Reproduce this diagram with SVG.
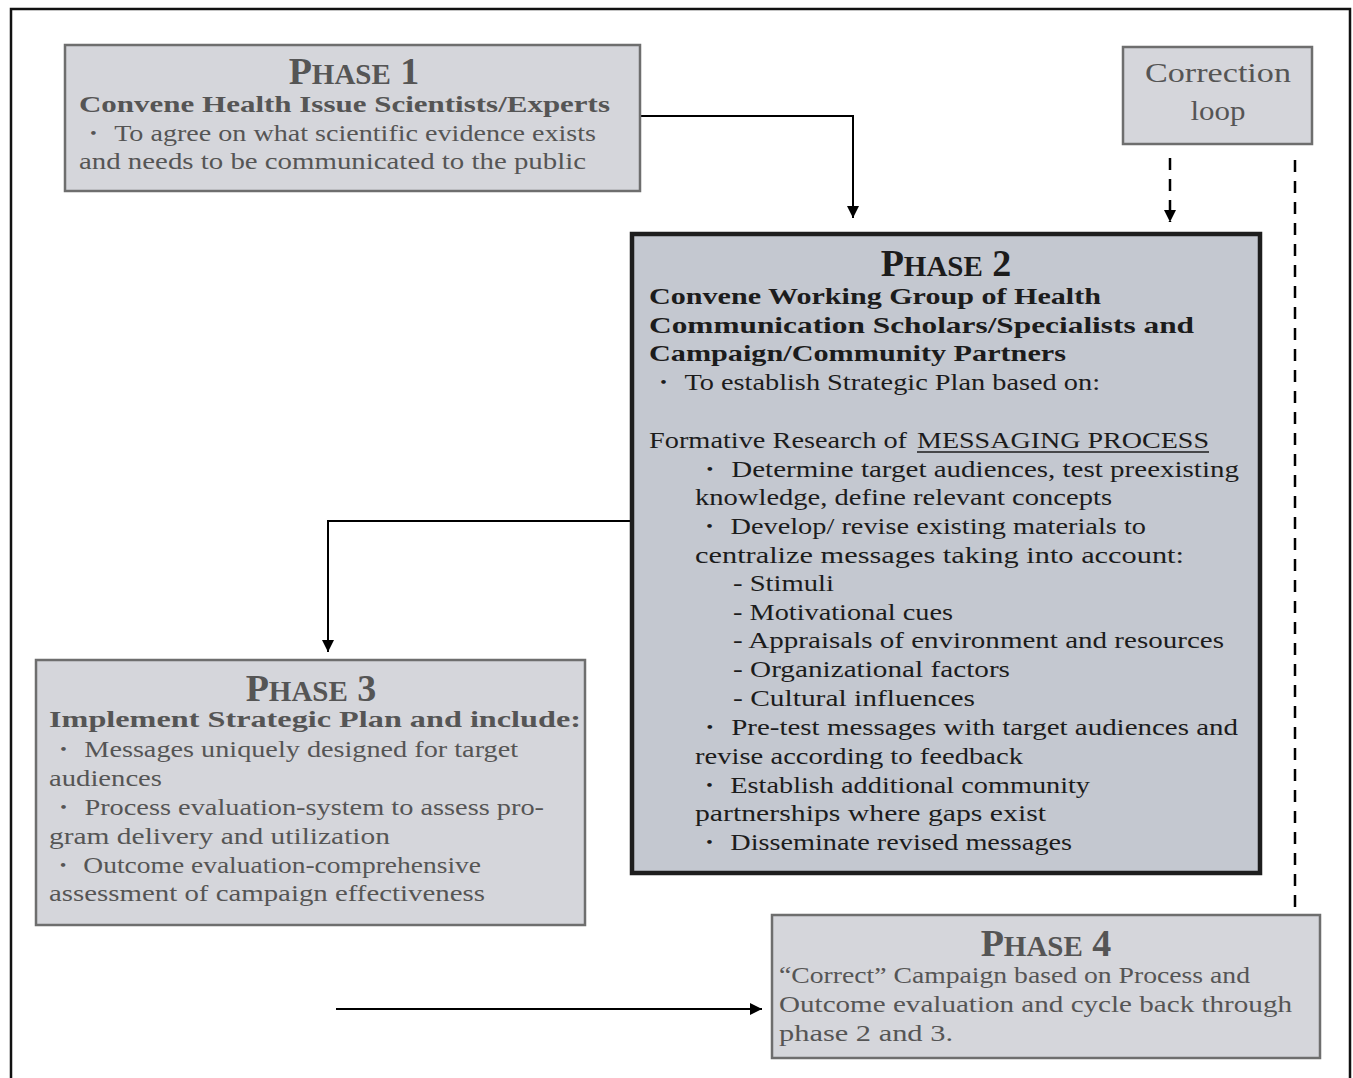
<svg xmlns="http://www.w3.org/2000/svg" width="1353" height="1078" viewBox="0 0 1353 1078">
<style>
.box{fill:#d5d6db;stroke:#6e6e6e;stroke-width:2.5}
.box2{fill:#c4c8d0;stroke:#1e1e1e;stroke-width:4.5}
text{font-family:"Liberation Serif","DejaVu Serif",serif;font-size:23px}
.g{fill:#555}
.k{fill:#1c1c1c}
.b{font-weight:bold}
.h{font-weight:bold;text-anchor:middle}
.big{font-size:38px}
.sm{font-size:29px}
.c{text-anchor:middle;font-size:28px}
.line{fill:none;stroke:#000;stroke-width:2}
.dash{fill:none;stroke:#000;stroke-width:2.5;stroke-dasharray:12 9}
</style>
<defs>
<marker id="ah2" viewBox="0 0 10 10" refX="10" refY="5" markerWidth="12" markerHeight="12" markerUnits="userSpaceOnUse" orient="auto"><path d="M0,0 L10,5 L0,10 Z" fill="#000"/></marker>
</defs>
<path d="M11,1078 V9 H1350 V1078" fill="none" stroke="#111" stroke-width="2.5"/>

<g id="connectors">
<path class="line" d="M640,116 H853 V218" marker-end="url(#ah2)"/>
<path class="line" d="M632,521 H328 V652" marker-end="url(#ah2)"/>
<path class="line" d="M336,1009 H762" stroke-width="3" marker-end="url(#ah2)"/>
<path class="dash" d="M1170,158 V222" marker-end="url(#ah2)"/>
<path class="dash" d="M1295,160 V913"/>
</g>

<g id="phase1">
<rect class="box" x="65" y="45" width="575" height="146"/>
<text class="g h" x="354" y="84"><tspan class="big">P</tspan><tspan class="sm">HASE</tspan><tspan class="big"> 1</tspan></text>
<text class="g b" x="79" y="112" textLength="531" lengthAdjust="spacingAndGlyphs">Convene Health Issue Scientists/Experts</text>
<text class="g" x="79" y="141" textLength="517" lengthAdjust="spacingAndGlyphs">・ To agree on what scientific evidence exists</text>
<text class="g" x="79" y="169" textLength="507" lengthAdjust="spacingAndGlyphs">and needs to be communicated to the public</text>
</g>

<g id="correction">
<rect class="box" x="1123" y="47" width="189" height="97"/>
<text class="g c" x="1218" y="82" textLength="146" lengthAdjust="spacingAndGlyphs">Correction</text>
<text class="g c" x="1218" y="120" textLength="55" lengthAdjust="spacingAndGlyphs">loop</text>
</g>

<g id="phase2">
<rect class="box2" x="632" y="234" width="628" height="639"/>
<text class="k h" x="946" y="276"><tspan class="big">P</tspan><tspan class="sm">HASE</tspan><tspan class="big"> 2</tspan></text>
<text class="k b" x="649" y="304" textLength="452" lengthAdjust="spacingAndGlyphs">Convene Working Group of  Health</text>
<text class="k b" x="649" y="333" textLength="545" lengthAdjust="spacingAndGlyphs">Communication Scholars/Specialists  and</text>
<text class="k b" x="649" y="361" textLength="417" lengthAdjust="spacingAndGlyphs">Campaign/Community Partners</text>
<text class="k" x="649" y="390" textLength="451" lengthAdjust="spacingAndGlyphs">・ To establish Strategic Plan based on:</text>
<text class="k" x="649" y="448" textLength="258" lengthAdjust="spacingAndGlyphs">Formative Research of</text>
<text class="k" x="917" y="448" textLength="292" lengthAdjust="spacingAndGlyphs">MESSAGING PROCESS</text>
<line x1="917" y1="452" x2="1209" y2="452" stroke="#1c1c1c" stroke-width="1.5"/>
<text class="k" x="695" y="477" textLength="544" lengthAdjust="spacingAndGlyphs">・ Determine target audiences, test preexisting</text>
<text class="k" x="695" y="505" textLength="417" lengthAdjust="spacingAndGlyphs">knowledge, define relevant concepts</text>
<text class="k" x="695" y="534" textLength="451" lengthAdjust="spacingAndGlyphs">・ Develop/ revise existing materials to</text>
<text class="k" x="695" y="563" textLength="489" lengthAdjust="spacingAndGlyphs">centralize messages taking into account:</text>
<text class="k" x="733" y="591" textLength="101" lengthAdjust="spacingAndGlyphs">- Stimuli</text>
<text class="k" x="733" y="620" textLength="220" lengthAdjust="spacingAndGlyphs">- Motivational cues</text>
<text class="k" x="733" y="648" textLength="491" lengthAdjust="spacingAndGlyphs">- Appraisals of environment and resources</text>
<text class="k" x="733" y="677" textLength="277" lengthAdjust="spacingAndGlyphs">- Organizational factors</text>
<text class="k" x="733" y="706" textLength="242" lengthAdjust="spacingAndGlyphs">- Cultural influences</text>
<text class="k" x="695" y="735" textLength="543" lengthAdjust="spacingAndGlyphs">・ Pre-test messages with target audiences and</text>
<text class="k" x="695" y="764" textLength="328" lengthAdjust="spacingAndGlyphs">revise according to feedback</text>
<text class="k" x="695" y="793" textLength="395" lengthAdjust="spacingAndGlyphs">・ Establish additional community</text>
<text class="k" x="695" y="821" textLength="351" lengthAdjust="spacingAndGlyphs">partnerships where gaps exist</text>
<text class="k" x="695" y="850" textLength="377" lengthAdjust="spacingAndGlyphs">・ Disseminate revised messages</text>
</g>

<g id="phase3">
<rect class="box" x="36" y="660" width="549" height="265"/>
<text class="g h" x="311" y="701"><tspan class="big">P</tspan><tspan class="sm">HASE</tspan><tspan class="big"> 3</tspan></text>
<text class="g b" x="49" y="727" textLength="532" lengthAdjust="spacingAndGlyphs">Implement Strategic Plan and include:</text>
<text class="g" x="49" y="757" textLength="469" lengthAdjust="spacingAndGlyphs">・ Messages uniquely designed for target</text>
<text class="g" x="49" y="786" textLength="113" lengthAdjust="spacingAndGlyphs">audiences</text>
<text class="g" x="49" y="815" textLength="495" lengthAdjust="spacingAndGlyphs">・ Process evaluation-system to assess pro-</text>
<text class="g" x="49" y="844" textLength="341" lengthAdjust="spacingAndGlyphs">gram delivery and utilization</text>
<text class="g" x="49" y="873" textLength="432" lengthAdjust="spacingAndGlyphs">・ Outcome evaluation-comprehensive</text>
<text class="g" x="49" y="901" textLength="436" lengthAdjust="spacingAndGlyphs">assessment of campaign effectiveness</text>
</g>

<g id="phase4">
<rect class="box" x="772" y="915" width="548" height="143"/>
<text class="g h" x="1046" y="956"><tspan class="big">P</tspan><tspan class="sm">HASE</tspan><tspan class="big"> 4</tspan></text>
<text class="g" x="779" y="983" textLength="471" lengthAdjust="spacingAndGlyphs">“Correct” Campaign based on Process and</text>
<text class="g" x="779" y="1012" textLength="513" lengthAdjust="spacingAndGlyphs">Outcome evaluation and cycle back through</text>
<text class="g" x="779" y="1041" textLength="174" lengthAdjust="spacingAndGlyphs">phase 2 and 3.</text>
</g>
</svg>
